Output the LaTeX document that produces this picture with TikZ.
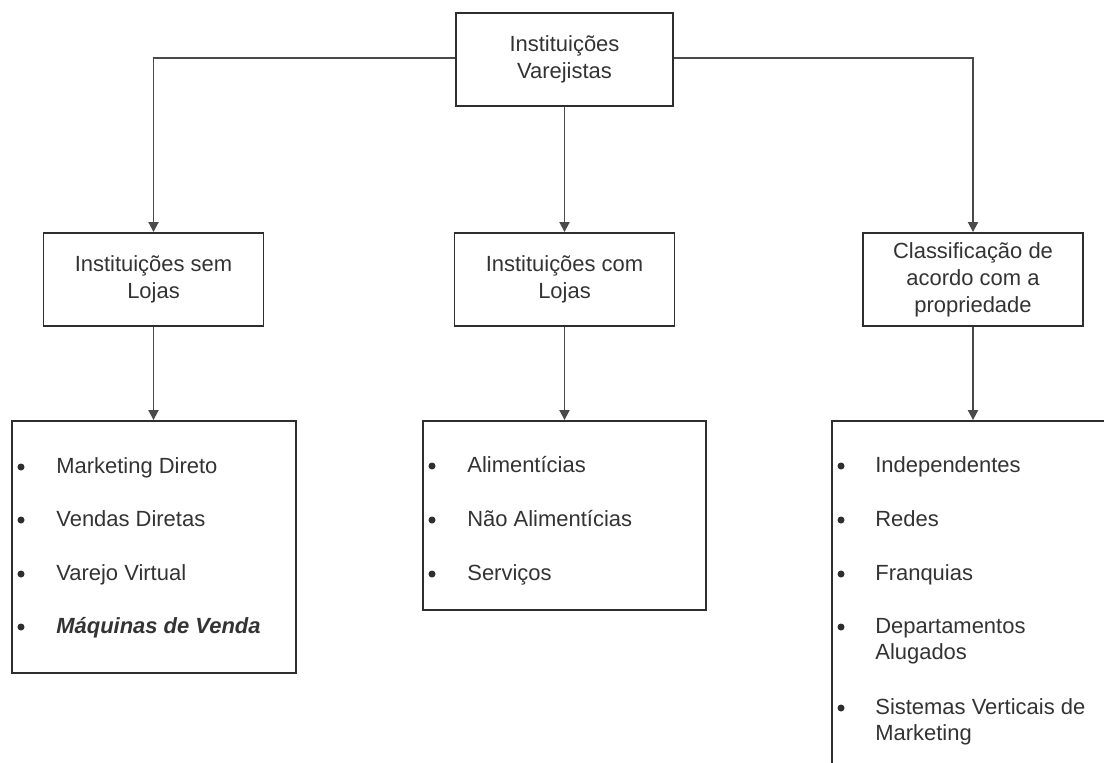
\documentclass[tikz,border=0pt]{standalone}
\usepackage{fontspec}
\setmainfont{Liberation Sans}
\usepackage{tikz}
\usetikzlibrary{arrows.meta}
\definecolor{varBorda}{HTML}{2E2E2E}
\definecolor{varLinha}{HTML}{4A4A4A}
\definecolor{varTexto}{HTML}{333333}

\begin{document}
\begin{tikzpicture}[
        x=0.02cm, y=-0.02cm,
        caixa/.style={
            draw=varBorda,
            line width=1.1pt,
            align=center,
            inner sep=0pt,
            text=varTexto,
            font=\fontsize{12.5}{15.3}\selectfont
        },
        topo/.style={caixa, minimum width=4.34cm, minimum height=1.86cm},
        grupo/.style={caixa, minimum width=4.4cm, minimum height=1.86cm},
        lista/.style={draw=varBorda, line width=1.1pt, inner sep=0pt},
        item/.style={
            anchor=base west,
            align=left,
            inner sep=0pt,
            text=varTexto,
            font=\fontsize{12.5}{14.7}\selectfont
        },
        seta/.style={
            -{Triangle[length=0.2cm,width=0.2cm]},
            line width=1.1pt,
            draw=varLinha
        }
    ]
    \clip (0,0) rectangle (1104,762);

    \node[topo] (raiz) at (564.5,59.5) {Instituições\\Varejistas};

    \node[grupo] (semlojas) at (153.5,279.5) {Instituições sem\\Lojas};
    \node[grupo] (comlojas) at (564.5,279.5) {Instituições com\\Lojas};
    \node[grupo] (propriedade) at (973,279.5) {Classificação de\\acordo com a\\propriedade};

    % caixas das listas
    \node[lista, minimum width=5.68cm, minimum height=5.04cm] (listasem) at (154,547) {};
    \node[lista, minimum width=5.66cm, minimum height=3.78cm] (listacom) at (564.5,515.5) {};
    \node[lista, minimum width=6.16cm, minimum height=7.58cm] (listaprop) at (986,610.5) {};

    \draw[seta] (raiz.west |- 0,58) -| (semlojas.north);
    \draw[seta] (raiz.east |- 0,58) -| (propriedade.north);
    \draw[seta] (raiz.south) -- (comlojas.north);

    \draw[seta] (semlojas.south) -- (semlojas.south |- listasem.north);
    \draw[seta] (comlojas.south) -- (comlojas.south |- listacom.north);
    \draw[seta] (propriedade.south) -- (propriedade.south |- listaprop.north);

    \foreach \txt/\yb [count=\i] in {Marketing Direto/473, Vendas Diretas/526,
            Varejo Virtual/580, {\bfseries\itshape Máquinas de Venda}/633} {
        \node[item] (sem\i) at (56,\yb) {\txt};
        \fill[varBorda] (21,\yb-6) circle (2pt);
    }

    \foreach \txt/\yb [count=\i] in {Alimentícias/472, Não Alimentícias/526, Serviços/580} {
        \node[item] (com\i) at (467,\yb) {\txt};
        \fill[varBorda] (432,\yb-6) circle (2pt);
    }

    % base de um item em duas linhas = linha de baixo
    \foreach \txt/\yb/\yp [count=\i] in {Independentes/472/466, Redes/526/520, Franquias/580/574,
            {Departamentos\\Alugados}/659/627, {Sistemas Verticais de\\Marketing}/740/708} {
        \node[item] (prop\i) at (875,\yb) {\txt};
        \fill[varBorda] (841,\yp) circle (2pt);
    }
\end{tikzpicture}
\end{document}
